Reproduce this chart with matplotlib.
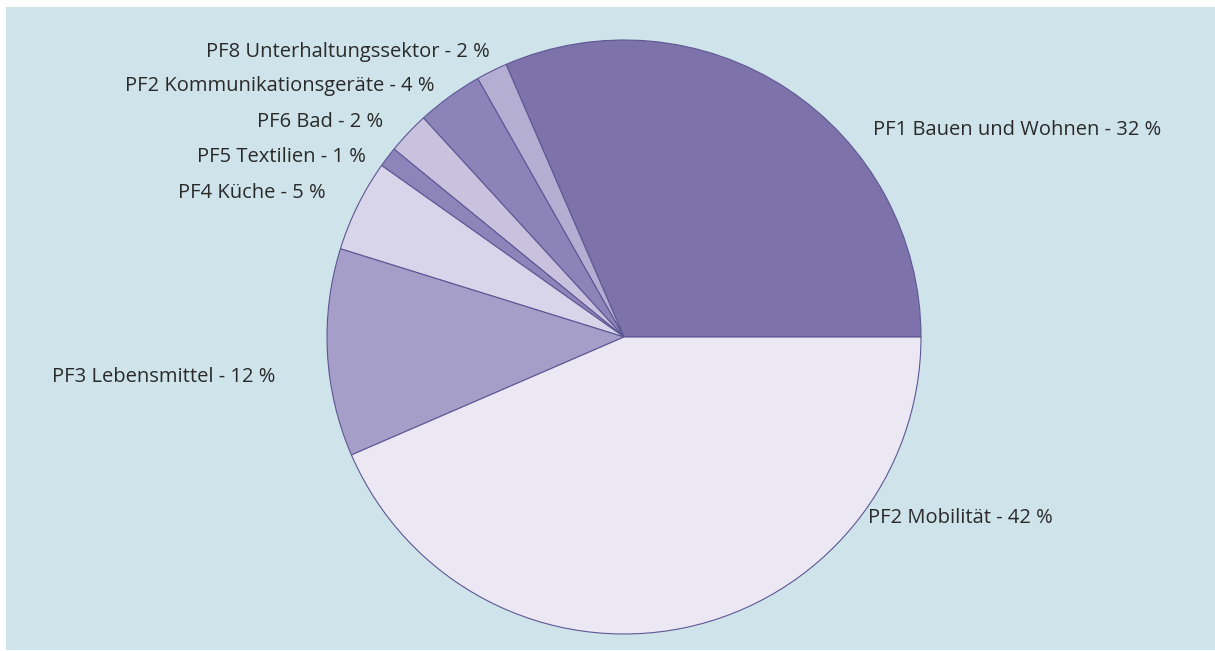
import matplotlib
matplotlib.use("Agg")
import matplotlib.pyplot as plt
from matplotlib.patches import Rectangle

# Data (shares as measured from the wedge angles; labels as printed)
categories = ["PF1 Bauen und Wohnen", "PF8 Unterhaltungssektor", "PF2 Kommunikationsgeräte",
              "PF6 Bad", "PF5 Textilien", "PF4 Küche", "PF3 Lebensmittel", "PF2 Mobilität"]
shares = [31.5, 1.7, 3.6, 2.3, 1.1, 5.0, 11.3, 43.5]
label_pct = [32, 2, 4, 2, 1, 5, 12, 42]
colors = ["#7d73aa", "#b5aed3", "#8c83b9", "#c8c2de", "#8d85ba", "#d8d4e9", "#a49ec8", "#ebe8f4"]

# label positions in pixel coordinates (left edge x, baseline y from top)
label_pos = [(873, 135), (206, 57), (125, 91), (257, 127), (197, 162), (178, 198), (52, 382), (868, 523)]

W, H = 1215, 651
fig = plt.figure(figsize=(W / 100, H / 100), dpi=100)
fig.patch.set_facecolor("white")
ax = fig.add_axes([0, 0, 1, 1])

ax.add_patch(Rectangle((6, 1), W - 6, H - 8, facecolor="#cfe3ea", edgecolor="none", zorder=0))

cx, cy, r = 624, H - 337, 297
ax.pie(shares, colors=colors, startangle=0, counterclock=True, center=(cx, cy), radius=r,
       wedgeprops=dict(edgecolor="#5e5794", linewidth=0.8), frame=True)
ax.set_xlim(0, W)
ax.set_ylim(0, H)
ax.set_aspect("equal")
ax.axis("off")

for cat, pct, (x, y) in zip(categories, label_pct, label_pos):
    ax.text(x, H - y, f"{cat} - {pct} %", fontsize=14.5, family="Open Sans",
            color="#2a2a2a", ha="left", va="baseline", zorder=5)

fig.savefig("out.png", dpi=100, facecolor="white")
